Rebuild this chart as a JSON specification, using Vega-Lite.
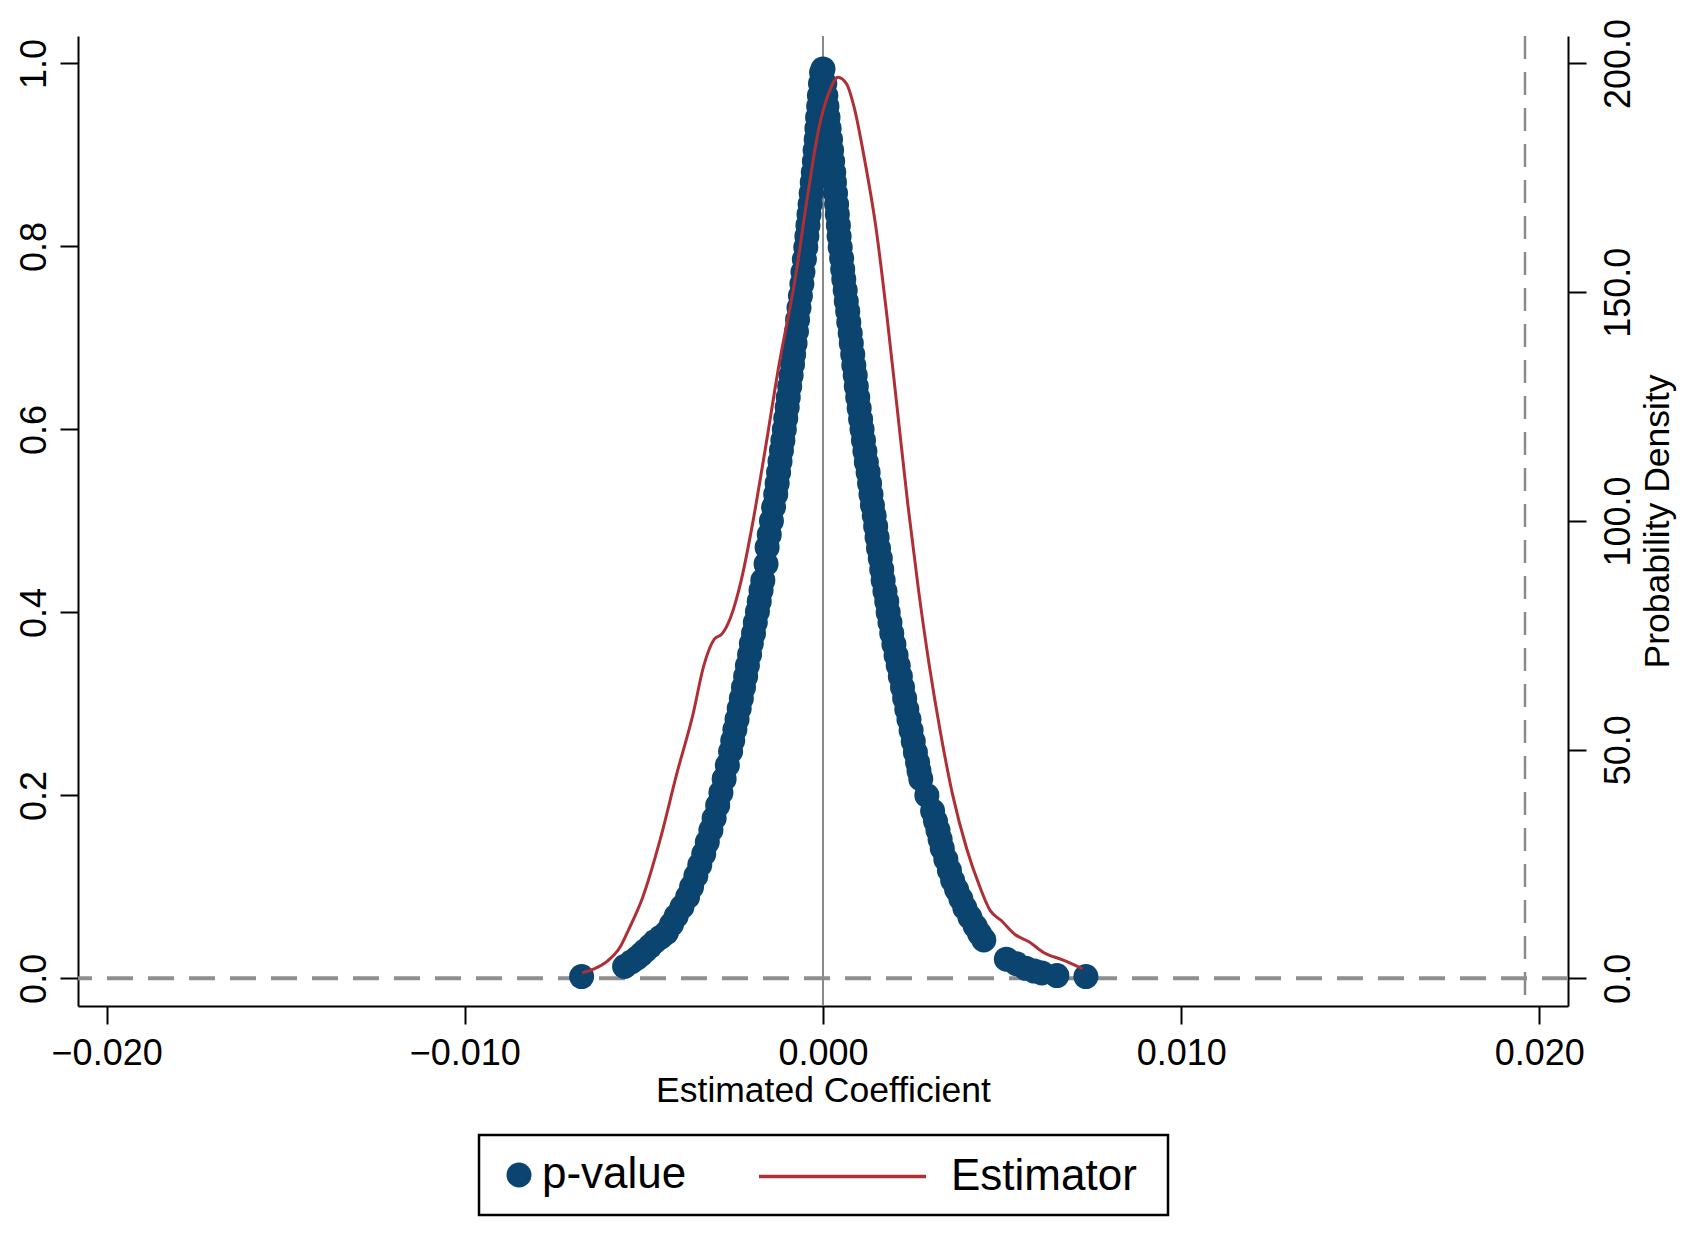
{
  "$schema": "https://vega.github.io/schema/vega-lite/v6.json",
  "autosize": {"type": "none"},
  "padding": {"left": 78, "top": 36, "right": 116, "bottom": 240},
  "width": 1490,
  "height": 970,
  "background": "white",
  "datasets": {
    "pts": [
      {"coef": -0.00674, "p": 0.002},
      {"coef": -0.00554, "p": 0.013}, {"coef": -0.00535, "p": 0.018}, {"coef": -0.0052, "p": 0.022}, {"coef": -0.00508, "p": 0.026},
      {"coef": -0.00497, "p": 0.03}, {"coef": -0.00483, "p": 0.035}, {"coef": -0.0047, "p": 0.04}, {"coef": -0.00453, "p": 0.045},
      {"coef": -0.00437, "p": 0.05}, {"coef": -0.00423, "p": 0.059}, {"coef": -0.0041, "p": 0.068}, {"coef": -0.00394, "p": 0.078},
      {"coef": -0.00378, "p": 0.089}, {"coef": -0.00367, "p": 0.1}, {"coef": -0.00355, "p": 0.112}, {"coef": -0.00344, "p": 0.124},
      {"coef": -0.00333, "p": 0.136}, {"coef": -0.00323, "p": 0.149}, {"coef": -0.00313, "p": 0.162}, {"coef": -0.00304, "p": 0.175},
      {"coef": -0.00294, "p": 0.189}, {"coef": -0.00285, "p": 0.203}, {"coef": -0.00276, "p": 0.218}, {"coef": -0.00267, "p": 0.233},
      {"coef": -0.00258, "p": 0.248}, {"coef": -0.00252, "p": 0.26}, {"coef": -0.00246, "p": 0.272}, {"coef": -0.0024, "p": 0.283},
      {"coef": -0.00234, "p": 0.295}, {"coef": -0.00228, "p": 0.306}, {"coef": -0.00222, "p": 0.318}, {"coef": -0.00216, "p": 0.33},
      {"coef": -0.00211, "p": 0.342}, {"coef": -0.00205, "p": 0.354}, {"coef": -0.002, "p": 0.366}, {"coef": -0.00194, "p": 0.377},
      {"coef": -0.00189, "p": 0.389}, {"coef": -0.00183, "p": 0.401}, {"coef": -0.00178, "p": 0.412}, {"coef": -0.00173, "p": 0.424},
      {"coef": -0.00168, "p": 0.435}, {"coef": -0.00159, "p": 0.453}, {"coef": -0.00156, "p": 0.471}, {"coef": -0.0015, "p": 0.485},
      {"coef": -0.00144, "p": 0.5}, {"coef": -0.00138, "p": 0.515}, {"coef": -0.00132, "p": 0.529}, {"coef": -0.00128, "p": 0.541},
      {"coef": -0.00124, "p": 0.553}, {"coef": -0.0012, "p": 0.565}, {"coef": -0.00116, "p": 0.577}, {"coef": -0.00112, "p": 0.588},
      {"coef": -0.00108, "p": 0.6}, {"coef": -0.00104, "p": 0.612}, {"coef": -0.001, "p": 0.624}, {"coef": -0.00097, "p": 0.635},
      {"coef": -0.00093, "p": 0.647}, {"coef": -0.00089, "p": 0.659}, {"coef": -0.00085, "p": 0.671}, {"coef": -0.00082, "p": 0.682},
      {"coef": -0.00078, "p": 0.694}, {"coef": -0.00074, "p": 0.707}, {"coef": -0.00071, "p": 0.72}, {"coef": -0.00067, "p": 0.733},
      {"coef": -0.00063, "p": 0.746}, {"coef": -0.00059, "p": 0.759}, {"coef": -0.00056, "p": 0.772}, {"coef": -0.00052, "p": 0.786},
      {"coef": -0.00048, "p": 0.799}, {"coef": -0.00045, "p": 0.811}, {"coef": -0.00042, "p": 0.823}, {"coef": -0.00039, "p": 0.835},
      {"coef": -0.00036, "p": 0.846}, {"coef": -0.00033, "p": 0.858}, {"coef": -0.0003, "p": 0.87}, {"coef": -0.00027, "p": 0.881},
      {"coef": -0.00024, "p": 0.893}, {"coef": -0.00022, "p": 0.905}, {"coef": -0.00019, "p": 0.917}, {"coef": -0.00017, "p": 0.929},
      {"coef": -0.00015, "p": 0.941}, {"coef": -0.00012, "p": 0.953}, {"coef": -0.0001, "p": 0.965}, {"coef": -0.00007, "p": 0.978},
      {"coef": -0.00004, "p": 0.99}, {"coef": 0.0, "p": 0.994},
      {"coef": 0.00005, "p": 0.978}, {"coef": 0.00008, "p": 0.965}, {"coef": 0.00011, "p": 0.953}, {"coef": 0.00014, "p": 0.941},
      {"coef": 0.00017, "p": 0.929}, {"coef": 0.00021, "p": 0.917}, {"coef": 0.00024, "p": 0.905}, {"coef": 0.00027, "p": 0.893},
      {"coef": 0.0003, "p": 0.881}, {"coef": 0.00032, "p": 0.87}, {"coef": 0.00035, "p": 0.858}, {"coef": 0.00038, "p": 0.846},
      {"coef": 0.0004, "p": 0.835}, {"coef": 0.00043, "p": 0.823}, {"coef": 0.00045, "p": 0.811}, {"coef": 0.00048, "p": 0.799},
      {"coef": 0.00052, "p": 0.787}, {"coef": 0.00055, "p": 0.775}, {"coef": 0.00058, "p": 0.764}, {"coef": 0.00062, "p": 0.752},
      {"coef": 0.00065, "p": 0.74}, {"coef": 0.00069, "p": 0.729}, {"coef": 0.00072, "p": 0.717}, {"coef": 0.00076, "p": 0.705},
      {"coef": 0.00079, "p": 0.694}, {"coef": 0.00083, "p": 0.682}, {"coef": 0.00086, "p": 0.67}, {"coef": 0.0009, "p": 0.659},
      {"coef": 0.00093, "p": 0.647}, {"coef": 0.00097, "p": 0.635}, {"coef": 0.00101, "p": 0.623}, {"coef": 0.00105, "p": 0.611},
      {"coef": 0.00109, "p": 0.6}, {"coef": 0.00113, "p": 0.588}, {"coef": 0.00117, "p": 0.576}, {"coef": 0.00121, "p": 0.564},
      {"coef": 0.00126, "p": 0.553}, {"coef": 0.0013, "p": 0.541}, {"coef": 0.00134, "p": 0.529}, {"coef": 0.00138, "p": 0.517},
      {"coef": 0.00143, "p": 0.506}, {"coef": 0.00147, "p": 0.494}, {"coef": 0.00151, "p": 0.482}, {"coef": 0.00155, "p": 0.47},
      {"coef": 0.0016, "p": 0.459}, {"coef": 0.00164, "p": 0.447}, {"coef": 0.00168, "p": 0.435}, {"coef": 0.00173, "p": 0.423},
      {"coef": 0.00178, "p": 0.412}, {"coef": 0.00182, "p": 0.4}, {"coef": 0.00187, "p": 0.389}, {"coef": 0.00192, "p": 0.377},
      {"coef": 0.00198, "p": 0.365}, {"coef": 0.00204, "p": 0.353}, {"coef": 0.0021, "p": 0.342}, {"coef": 0.00216, "p": 0.33},
      {"coef": 0.00222, "p": 0.318}, {"coef": 0.00228, "p": 0.306}, {"coef": 0.00234, "p": 0.294}, {"coef": 0.0024, "p": 0.283},
      {"coef": 0.00246, "p": 0.271}, {"coef": 0.00252, "p": 0.259}, {"coef": 0.00258, "p": 0.247}, {"coef": 0.00264, "p": 0.236},
      {"coef": 0.00268, "p": 0.227}, {"coef": 0.00273, "p": 0.218}, {"coef": 0.0029, "p": 0.2}, {"coef": 0.00306, "p": 0.183},
      {"coef": 0.00314, "p": 0.172}, {"coef": 0.00321, "p": 0.162}, {"coef": 0.00327, "p": 0.152}, {"coef": 0.00333, "p": 0.142},
      {"coef": 0.00343, "p": 0.13}, {"coef": 0.00353, "p": 0.118}, {"coef": 0.00362, "p": 0.107}, {"coef": 0.00373, "p": 0.097},
      {"coef": 0.00385, "p": 0.087}, {"coef": 0.00396, "p": 0.077}, {"coef": 0.0041, "p": 0.067}, {"coef": 0.00425, "p": 0.057},
      {"coef": 0.00437, "p": 0.049}, {"coef": 0.00449, "p": 0.042},
      {"coef": 0.00512, "p": 0.021}, {"coef": 0.0054, "p": 0.016}, {"coef": 0.00566, "p": 0.011}, {"coef": 0.0059, "p": 0.008},
      {"coef": 0.00611, "p": 0.006}, {"coef": 0.00653, "p": 0.003}, {"coef": 0.00734, "p": 0.002}
    ],
    "dens": [
      {"coef": -0.00672, "density": 1.2}, {"coef": -0.00641, "density": 2.0}, {"coef": -0.00603, "density": 3.7},
      {"coef": -0.00566, "density": 6.9}, {"coef": -0.00543, "density": 10.6}, {"coef": -0.00503, "density": 17.8},
      {"coef": -0.00453, "density": 30.8}, {"coef": -0.00408, "density": 44.8}, {"coef": -0.00363, "density": 57.7},
      {"coef": -0.00333, "density": 68.3}, {"coef": -0.00303, "density": 74.2}, {"coef": -0.00282, "density": 75.3},
      {"coef": -0.00258, "density": 78.9}, {"coef": -0.00228, "density": 87.1}, {"coef": -0.00198, "density": 98.8},
      {"coef": -0.00162, "density": 115.3}, {"coef": -0.00123, "density": 134.0}, {"coef": -0.00078, "density": 152.8},
      {"coef": -0.00042, "density": 171.6}, {"coef": -0.00012, "density": 185.7}, {"coef": 0.00018, "density": 193.9},
      {"coef": 0.00042, "density": 197.0}, {"coef": 0.00066, "density": 195.5}, {"coef": 0.00087, "density": 190.4},
      {"coef": 0.00117, "density": 178.6}, {"coef": 0.00147, "density": 164.6}, {"coef": 0.00177, "density": 145.8},
      {"coef": 0.00207, "density": 124.7}, {"coef": 0.00237, "density": 103.5}, {"coef": 0.00267, "density": 84.7},
      {"coef": 0.00297, "density": 68.3}, {"coef": 0.00327, "density": 54.2}, {"coef": 0.00362, "density": 40.1},
      {"coef": 0.00401, "density": 28.4}, {"coef": 0.00437, "density": 20.2}, {"coef": 0.00467, "density": 14.8},
      {"coef": 0.00497, "density": 12.7}, {"coef": 0.00536, "density": 9.6}, {"coef": 0.00575, "density": 8.0},
      {"coef": 0.00617, "density": 5.6}, {"coef": 0.00671, "density": 4.0}, {"coef": 0.00725, "density": 2.1}
    ],
    "vrules": [
      {"coef": 0.0, "kind": "solid"},
      {"coef": 0.0196, "kind": "dashed"}
    ],
    "hrules": [
      {"p": 0.0}
    ]
  },
  "layer": [
    {
      "layer": [
        {
          "data": {"name": "vrules"},
          "transform": [{"filter": "datum.kind === 'solid'"}],
          "mark": {"type": "rule", "color": "#8a8a8a", "strokeWidth": 2},
          "encoding": {
            "x": {"field": "coef", "type": "quantitative", "scale": {"domain": [-0.0208, 0.0208], "nice": false, "zero": false}}
          }
        },
        {
          "data": {"name": "vrules"},
          "transform": [{"filter": "datum.kind === 'dashed'"}],
          "mark": {"type": "rule", "color": "#8a8a8a", "strokeWidth": 2.5, "strokeDash": [23, 13]},
          "encoding": {
            "x": {"field": "coef", "type": "quantitative", "scale": {"domain": [-0.0208, 0.0208], "nice": false, "zero": false}}
          }
        },
        {
          "data": {"name": "hrules"},
          "mark": {"type": "rule", "color": "#8e8e8e", "strokeWidth": 4, "strokeDash": [26, 15]},
          "encoding": {
            "y": {"field": "p", "type": "quantitative", "scale": {"domain": [-0.0302, 1.03], "nice": false, "zero": false}}
          }
        },
        {
          "data": {"name": "pts"},
          "mark": {"type": "point", "shape": "circle", "filled": true, "size": 625, "opacity": 1},
          "encoding": {
            "x": {
              "field": "coef", "type": "quantitative",
              "scale": {"domain": [-0.0208, 0.0208], "nice": false, "zero": false},
              "axis": {"values": [-0.02, -0.01, 0, 0.01, 0.02], "format": ".3f", "title": "Estimated Coefficient",
                       "labelFontSize": 36, "labelPadding": 12, "titleFontSize": 35.5, "titlePadding": 2}
            },
            "y": {
              "field": "p", "type": "quantitative",
              "scale": {"domain": [-0.0302, 1.03], "nice": false, "zero": false},
              "axis": {"orient": "left", "values": [0, 0.2, 0.4, 0.6, 0.8, 1.0], "format": ".1f", "title": null,
                       "labelAngle": 270, "labelFontSize": 36, "labelPadding": 7}
            },
            "color": {
              "datum": "p-value", "type": "nominal",
              "scale": {"domain": ["p-value"], "range": ["#0b446f"]},
              "legend": {
                "title": "\u00a0", "titleOrient": "right", "titleFontSize": 10, "titlePadding": 464,
                "orient": "none", "legendX": 401, "legendY": 1099, "direction": "horizontal",
                "strokeColor": "black", "fillColor": "white", "padding": 18,
                "labelFont": "Liberation Sans", "labelFontSize": 44, "labelColor": "black", "labelLimit": 500,
                "symbolType": "circle", "symbolSize": 625, "labelOffset": 1, "symbolStrokeWidth": 0
              }
            }
          }
        }
      ]
    },
    {
      "data": {"name": "dens"},
      "mark": {"type": "line", "strokeWidth": 3, "interpolate": "monotone"},
      "encoding": {
        "x": {"field": "coef", "type": "quantitative", "scale": {"domain": [-0.0208, 0.0208], "nice": false, "zero": false}},
        "y": {
          "field": "density", "type": "quantitative",
          "scale": {"domain": [-6.04, 206.0], "nice": false, "zero": false},
          "axis": {"orient": "right", "values": [0, 50, 100, 150, 200], "format": ".1f", "title": "Probability Density",
                   "labelAngle": 270, "labelFontSize": 36, "labelPadding": 15, "titleAngle": 270, "titleBaseline": "top", "titleFontSize": 35.5, "titlePadding": 4}
        },
        "stroke": {
          "datum": "Estimator", "type": "nominal",
          "scale": {"domain": ["Estimator"], "range": ["#ae3036"]},
          "legend": {
            "title": null, "orient": "none", "legendX": 679, "legendY": 1055, "direction": "horizontal", "padding": 0,
            "labelFont": "Liberation Sans", "labelFontSize": 44, "labelColor": "black", "labelLimit": 500,
            "symbolType": "stroke", "symbolSize": 27889, "symbolStrokeWidth": 3.5, "labelOffset": 23
          }
        }
      }
    }
  ],
  "resolve": {"scale": {"y": "independent"}},
  "config": {
    "view": {"stroke": null},
    "font": "Liberation Sans",
    "legend": {"strokeWidth": 2.5},
    "axis": {
      "domainColor": "black", "domainWidth": 2, "tickColor": "black", "tickWidth": 2, "tickSize": 18,
      "labelColor": "black", "titleColor": "black", "grid": false,
      "labelFont": "Liberation Sans", "titleFont": "Liberation Sans", "titleFontWeight": "normal"
    }
  }
}
